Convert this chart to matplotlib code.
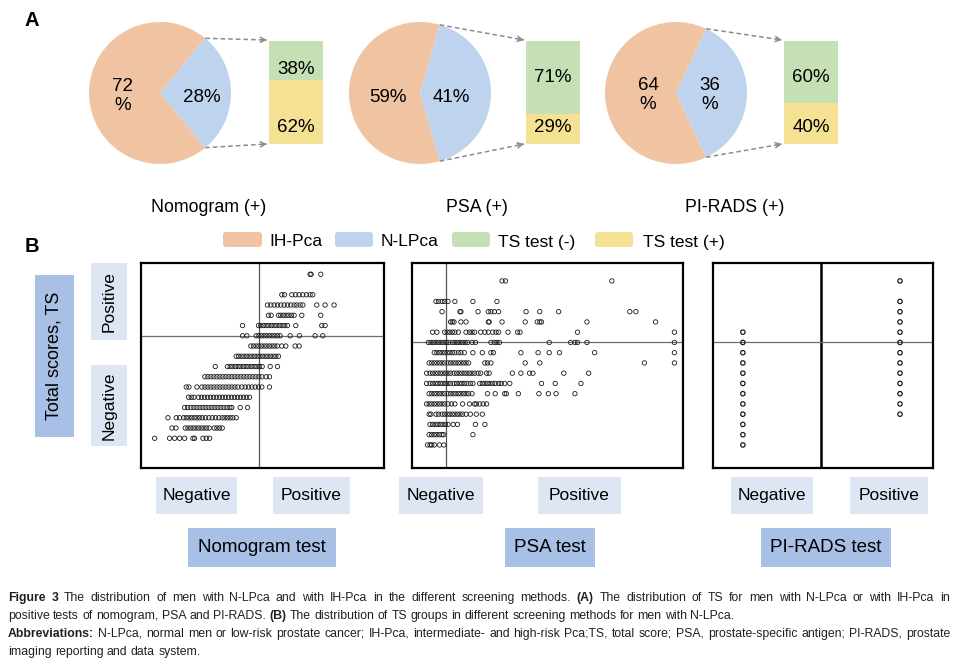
import numpy as np
import matplotlib
matplotlib.use('Agg')
import matplotlib.pyplot as plt
from matplotlib import font_manager
from matplotlib.patches import Rectangle, FancyBboxPatch

plt.rcParams['font.family'] = ['Liberation Sans', 'DejaVu Sans']

# ---------------- data ----------------
ihpca_pct = [72, 59, 64]        # IH-Pca share of positive tests
nlpca_pct = [28, 41, 36]        # N-LPca share of positive tests
ts_neg_pct = [38, 71, 60]       # TS test (-) among N-LPca
ts_pos_pct = [62, 29, 40]       # TS test (+) among N-LPca
ih_labels = ['72\n%', '59%', '64\n%']
nl_labels = ['28%', '41%', '36\n%']
pie_titles = ['Nomogram (+)', 'PSA (+)', 'PI-RADS (+)']
legend_labels = ['IH-Pca', 'N-LPca', 'TS test (-)', 'TS test (+)']

# panel B: nomogram score (%) for each TS value
nomo_rows = {
    16: [54.0, 54.3, 57.2],
    14: [45.5, 46.3, 48.5, 49.6, 50.7, 51.8, 52.9, 54.0, 54.8],
    13: [41.2, 42.2, 43.2, 44.2, 45.2, 46.2, 47.2, 48.2, 49.2, 50.0, 51.0, 51.8, 56.0, 58.5, 61.2],
    12: [41.5, 42.3, 44.5, 45.2, 46.0, 46.8, 47.6, 48.4, 49.2, 51.5, 57.2],
    11: [33.7, 38.5, 39.2, 40.0, 40.8, 41.6, 42.4, 43.2, 44.0, 44.8, 45.6, 46.4, 47.2, 49.7, 57.5, 58.5],
    10: [33.7, 35.0, 37.8, 38.6, 39.4, 40.2, 41.0, 41.8, 42.6, 43.4, 44.2, 45.0, 48.0, 50.8, 55.5, 57.8],
    9: [36.2, 37.0, 37.8, 38.6, 39.4, 40.2, 41.0, 41.8, 42.6, 43.4, 44.2, 45.5, 46.7, 49.5, 50.7],
    8: [31.8, 32.5, 33.3, 34.1, 34.9, 35.7, 36.5, 37.3, 38.1, 38.9, 39.7, 40.5, 41.3, 42.1, 42.9, 43.7, 44.5],
    7: [25.5, 29.2, 30.0, 30.8, 31.6, 32.4, 33.2, 34.0, 34.8, 35.6, 36.4, 37.2, 38.0, 38.8, 39.6, 42.0, 44.2],
    6: [22.4, 23.3, 24.2, 25.1, 26.0, 26.9, 27.8, 28.7, 29.6, 30.5, 31.4, 32.3, 33.2, 34.1, 35.0, 35.9,
        36.8, 37.7, 38.6, 39.5, 40.8, 41.8],
    5: [16.8, 17.6, 20.0, 21.5, 22.4, 23.3, 24.2, 25.1, 26.0, 26.9, 27.8, 28.7, 29.6, 30.5, 31.4, 32.3,
        33.5, 34.5, 35.5, 36.5, 37.5, 38.5, 39.5, 41.8],
    4: [17.5, 18.3, 19.1, 20.5, 21.4, 22.3, 23.2, 24.1, 25.0, 25.9, 26.8, 27.7, 28.6, 29.5, 30.4, 31.3,
        32.2, 33.1, 34.0, 34.9, 35.8],
    3: [16.3, 17.2, 18.2, 19.1, 20.0, 20.9, 21.8, 22.7, 23.6, 24.5, 25.4, 26.3, 27.2, 28.1, 29.0, 29.9,
        30.5, 33.0, 35.2],
    2: [11.3, 13.8, 14.8, 16.0, 16.8, 17.6, 18.4, 19.2, 20.0, 20.8, 21.6, 22.6, 23.6, 24.6, 25.6, 26.6,
        27.6, 28.4, 29.2, 30.0, 30.8, 31.8],
    1: [12.5, 13.7, 16.5, 17.3, 18.1, 18.9, 19.7, 20.5, 21.3, 22.1, 22.9, 23.7, 25.2, 26.0, 26.8, 27.6],
    0: [7.3, 11.8, 13.3, 14.8, 16.3, 18.8, 19.3, 21.8, 22.8, 23.8],
}
nomo_cut = 38.5

# panel B: PSA (ng/mL) for each TS value
psa_rows = {
    16: [10.5, 10.9, 23.3],
    14: [2.8, 3.1, 3.5, 3.8, 4.2, 5.0, 7.1, 9.9],
    13: [3.5, 5.6, 5.7, 7.7, 8.9, 9.2, 9.6, 10.1, 13.3, 14.9, 17.1, 25.4, 26.1],
    12: [4.5, 4.7, 4.9, 5.7, 6.3, 8.9, 9.0, 10.5, 13.2, 14.6, 14.9, 15.1, 20.4, 28.4],
    11: [2.4, 2.9, 3.8, 4.1, 4.4, 4.7, 5.0, 5.4, 6.3, 6.7, 7.0, 7.3, 8.0, 8.5, 8.9, 9.4, 9.8, 10.1,
         11.2, 12.3, 12.6, 19.3, 30.6],
    10: [1.9, 2.2, 2.5, 2.8, 3.1, 3.4, 3.7, 4.0, 4.3, 4.7, 5.0, 5.3, 5.6, 5.9, 6.2, 6.5, 7.0, 7.4,
         9.2, 9.6, 9.9, 10.2, 16.0, 18.5, 19.0, 19.3, 20.4, 30.6],
    9: [2.6, 2.9, 3.2, 3.5, 3.8, 4.1, 4.4, 4.7, 5.0, 5.4, 5.7, 6.1, 7.1, 8.2, 9.2, 9.5, 12.7, 14.7,
        16.0, 17.2, 21.3, 30.6],
    8: [2.0, 2.3, 2.6, 2.9, 3.2, 3.5, 3.8, 4.2, 4.5, 4.8, 5.1, 5.4, 5.7, 6.0, 6.3, 6.6, 8.5, 8.8, 9.2,
        13.2, 14.9, 27.1, 30.6],
    7: [1.7, 2.1, 2.4, 2.7, 3.0, 3.3, 3.6, 3.9, 4.2, 4.5, 4.9, 5.2, 5.5, 5.8, 6.1, 6.4, 6.7, 7.0, 7.3,
        7.7, 8.0, 8.7, 9.0, 11.7, 12.7, 13.7, 14.1, 17.7, 20.6],
    6: [1.7, 2.1, 2.4, 2.7, 3.0, 3.3, 3.6, 3.9, 4.2, 4.5, 4.9, 5.2, 5.5, 5.8, 6.1, 6.4, 6.8, 7.1, 7.9,
        8.2, 8.5, 8.8, 9.1, 9.4, 9.7, 10.1, 10.4, 10.8, 11.4, 15.1, 16.7, 19.7],
    5: [2.0, 2.3, 2.6, 2.9, 3.2, 3.5, 3.8, 4.2, 4.5, 4.8, 5.1, 5.4, 5.7, 6.0, 6.3, 6.6, 7.0, 8.8, 9.7,
        10.8, 11.0, 12.4, 14.8, 15.9, 16.8, 19.0],
    4: [1.7, 2.0, 2.3, 2.6, 2.9, 3.2, 3.5, 3.8, 4.2, 4.6, 5.0, 5.9, 6.7, 7.3, 7.5, 7.9, 8.3, 8.7],
    3: [2.0, 2.2, 2.8, 3.1, 3.5, 3.8, 4.1, 4.4, 4.7, 5.0, 5.3, 5.6, 5.9, 6.3, 6.8, 7.5, 8.2],
    2: [2.1, 2.4, 2.7, 3.0, 3.3, 3.6, 3.9, 4.2, 4.8, 5.3, 7.4, 8.5],
    1: [2.0, 2.3, 2.6, 2.9, 3.2, 3.5, 3.7, 7.1],
    0: [1.8, 2.1, 2.3, 2.6, 3.2, 3.7],
}
psa_cut = 4.0

# panel B: PI-RADS negative / positive, TS values
pirads_neg_ts = [0, 1, 2, 3, 4, 5, 6, 7, 8, 9, 10, 11]
pirads_pos_ts = [3, 4, 5, 6, 7, 8, 9, 10, 11, 12, 13, 14, 16]
pirads_neg_x, pirads_pos_x, pirads_cut = 2, 4, 3
ts_cut = 10

# ---------------- style ----------------
c_ih = '#F0C3A3'
c_nl = '#BED3ED'
c_neg = '#C6E0B5'
c_pos = '#F5E193'
box_light = '#DEE6F4'
box_dark = '#A8C0E5'

W, H = 958, 667
fig = plt.figure(figsize=(W / 100, H / 100), dpi=100)

ov = fig.add_axes([0, 0, 1, 1])


def Y(y):
    return H - y


def px_rect(x0, y0, x1, y1):
    return [x0 / W, 1 - y1 / H, (x1 - x0) / W, (y1 - y0) / H]


# ---------------- panel A ----------------
pie_cx = [160, 420, 676]
pie_cy = 93
pie_r = 71
bar_x0 = [269, 526, 784]
bar_w = 54
bar_top, bar_bot = 41, 144
ih_pos = [(123, 96), (388, 97), (648, 95)]
nl_pos = [(202, 97), (451, 97), (710, 95)]
neg_lab_y = [69, 77, 77]
title_x = [209, 477, 735]

for i in range(3):
    ov.pie([ihpca_pct[i], nlpca_pct[i]], colors=[c_ih, c_nl],
           startangle=nlpca_pct[i] * 1.8, center=(pie_cx[i], Y(pie_cy)),
           radius=pie_r, wedgeprops=dict(linewidth=0), frame=True)
    ov.text(ih_pos[i][0], Y(ih_pos[i][1]), ih_labels[i], fontsize=13.5,
            ha='center', va='center', multialignment='center', linespacing=1.15)
    ov.text(nl_pos[i][0], Y(nl_pos[i][1]), nl_labels[i], fontsize=13.5,
            ha='center', va='center', multialignment='center', linespacing=1.15)

    # stacked bar: TS test (+) below, TS test (-) on top
    full = bar_bot - bar_top
    h_pos = ts_pos_pct[i] / 100 * full
    h_neg = ts_neg_pct[i] / 100 * full
    ov.bar(bar_x0[i], h_pos, width=bar_w, bottom=Y(bar_bot), align='edge', color=c_pos, lw=0)
    ov.bar(bar_x0[i], h_neg, width=bar_w, bottom=Y(bar_bot) + h_pos, align='edge', color=c_neg, lw=0)
    cx = bar_x0[i] + bar_w / 2
    ov.text(cx, Y(neg_lab_y[i]), f'{ts_neg_pct[i]}%', fontsize=13.5, ha='center', va='center')
    ov.text(cx, Y(128), f'{ts_pos_pct[i]}%', fontsize=13.5, ha='center', va='center')

    # dashed connectors from the N-LPca slice to the bar
    ang = np.deg2rad(nlpca_pct[i] * 1.8)
    vx = pie_cx[i] + pie_r * np.cos(ang)
    for sgn, yend in [(1, Y(bar_top - 1)), (-1, Y(bar_bot))]:
        vy = Y(pie_cy) + sgn * pie_r * np.sin(ang)
        xe = bar_x0[i] - 2
        ov.plot([vx, xe], [vy, yend], color='#8c8c8c', lw=1.1, dashes=(3, 2))
        d = np.hypot(xe - vx, yend - vy)
        ov.annotate('', xy=(xe, yend),
                    xytext=(xe - 6 * (xe - vx) / d, yend - 6 * (yend - vy) / d),
                    arrowprops=dict(arrowstyle='->', color='#8c8c8c', lw=1.1,
                                    shrinkA=0, shrinkB=0, mutation_scale=9))

    ov.text(title_x[i], Y(207), pie_titles[i], fontsize=12.8, ha='center', va='center')

ov.text(25, Y(21), 'A', fontsize=14.5, fontweight='bold', ha='left', va='center')
ov.text(25, Y(247), 'B', fontsize=14.5, fontweight='bold', ha='left', va='center')

# legend
leg_patch_x = [(223, 262), (335, 373), (452, 490), (595, 633)]
leg_text_x = [269, 381, 498, 643]
for (x0, x1), tx, lab, col in zip(leg_patch_x, leg_text_x, legend_labels, [c_ih, c_nl, c_neg, c_pos]):
    ov.add_patch(FancyBboxPatch((x0, Y(247)), x1 - x0, 15,
                                boxstyle='round,pad=0,rounding_size=3', fc=col, ec='none'))
    ov.text(tx, Y(242), lab, fontsize=12.5, ha='left', va='center')


# ---------------- panel B ----------------
def label_box(x0, y0, x1, y1, text, color, size, rot=0):
    ov.add_patch(Rectangle((x0, Y(y1)), x1 - x0, y1 - y0, fc=color, ec='none'))
    ov.text((x0 + x1) / 2, Y((y0 + y1) / 2), text, fontsize=size, rotation=rot,
            ha='center', va='center')


label_box(35, 275, 74, 437, 'Total scores, TS', box_dark, 13, rot=90)
label_box(91, 263, 127, 340, 'Positive', box_light, 12.5, rot=90)
label_box(91, 365, 127, 446, 'Negative', box_light, 12.5, rot=90)

for x0, x1, lab in [(156, 237, 'Negative'), (273, 350, 'Positive'),
                    (399, 483, 'Negative'), (538, 621, 'Positive'),
                    (731, 813, 'Negative'), (850, 928, 'Positive')]:
    label_box(x0, 477, x1, 514, lab, box_light, 12.5)

for x0, x1, lab in [(188, 336, 'Nomogram test'), (505, 595, 'PSA test'), (761, 891, 'PI-RADS test')]:
    label_box(x0, 528, x1, 567, lab, box_dark, 13.5)


def scatter_panel(rect, xs, ys, xlim, ylim, xcut, vcolor, vlw, mlw=0.6):
    ax = fig.add_axes(px_rect(*rect))
    ax.scatter(xs, ys, s=10, facecolors='none', edgecolors='#1a1a1a', linewidths=mlw, zorder=3)
    ax.axvline(xcut, color=vcolor, lw=vlw, zorder=2)
    ax.axhline(ts_cut, color='#6e6e6e', lw=0.9, zorder=2)
    ax.set_xlim(xlim)
    ax.set_ylim(ylim)
    ax.set_xticks([])
    ax.set_yticks([])
    for s in ax.spines.values():
        s.set_linewidth(1.6)
    return ax


nx = [x for ts, row in nomo_rows.items() for x in row]
ny = [ts for ts, row in nomo_rows.items() for x in row]
scatter_panel((141, 263, 384, 468), nx, ny, (3.2, 76.2), (-2.9, 17.1), nomo_cut, '#555555', 0.9)

px_ = [x for ts, row in psa_rows.items() for x in row]
py_ = [ts for ts, row in psa_rows.items() for x in row]
scatter_panel((412, 263, 683, 468), px_, py_, (0, 31.6), (-2.25, 17.75), psa_cut, '#555555', 0.9)

rx = [pirads_neg_x] * len(pirads_neg_ts) + [pirads_pos_x] * len(pirads_pos_ts)
ry = pirads_neg_ts + pirads_pos_ts
scatter_panel((713, 263, 933, 468), rx, ry, (1.62, 4.42), (-2.25, 17.75), pirads_cut, 'black', 1.8, mlw=0.9)

# ---------------- caption ----------------
names = {f.name for f in font_manager.fontManager.ttflist}
cap_family = 'Liberation Sans Narrow' if 'Liberation Sans Narrow' in names else 'Liberation Sans'
renderer = fig.canvas.get_renderer()

cap_lines = [
    [('Figure 3', 'bold'),
     (' The distribution of men with N-LPca and with IH-Pca in the different screening methods. ', 'normal'),
     ('(A)', 'bold'),
     (' The distribution of TS for men with N-LPca or with IH-Pca in', 'normal')],
    [('positive tests of nomogram, PSA and PI-RADS. ', 'normal'), ('(B)', 'bold'),
     (' The distribution of TS groups in different screening methods for men with N-LPca.', 'normal')],
    [('Abbreviations:', 'bold'),
     (' N-LPca, normal men or low-risk prostate cancer; IH-Pca, intermediate- and high-risk Pca;TS, '
      'total score; PSA, prostate-specific antigen; PI-RADS, prostate', 'normal')],
    [('imaging reporting and data system.', 'normal')],
]
justified = [True, False, True, False]
cap_x0, cap_x1 = 8, 950


def text_w(s, weight, size):
    t = ov.text(0, 0, s, fontsize=size, fontweight=weight, family=cap_family)
    w = t.get_window_extent(renderer).width
    t.remove()
    return w


def space_w(size):
    return text_w('a a', 'normal', size) - text_w('aa', 'normal', size)


# split into words so the long lines can be justified
cap_words = [[(w, wt) for s, wt in line for w in s.split()] for line in cap_lines]

base = 10
sp = space_w(base)
natural = [sum(text_w(w, wt, base) for w, wt in words) + sp * (len(words) - 1) for words in cap_words]
cap_size = base * (cap_x1 - cap_x0) / max(natural) * 0.995
sp = space_w(cap_size)

for li, words in enumerate(cap_words):
    widths = [text_w(w, wt, cap_size) for w, wt in words]
    gap = sp
    if justified[li] and len(words) > 1:
        gap = (cap_x1 - cap_x0 - sum(widths)) / (len(words) - 1)
    x = cap_x0
    for (w, wt), ww in zip(words, widths):
        ov.text(x, Y(598 + 18 * li), w, fontsize=cap_size, fontweight=wt, family=cap_family,
                ha='left', va='center', color='#231f20')
        x += ww + gap

ov.set_xlim(0, W)
ov.set_ylim(0, H)
ov.set_aspect('auto')
ov.axis('off')

fig.savefig('out.png', dpi=100)
